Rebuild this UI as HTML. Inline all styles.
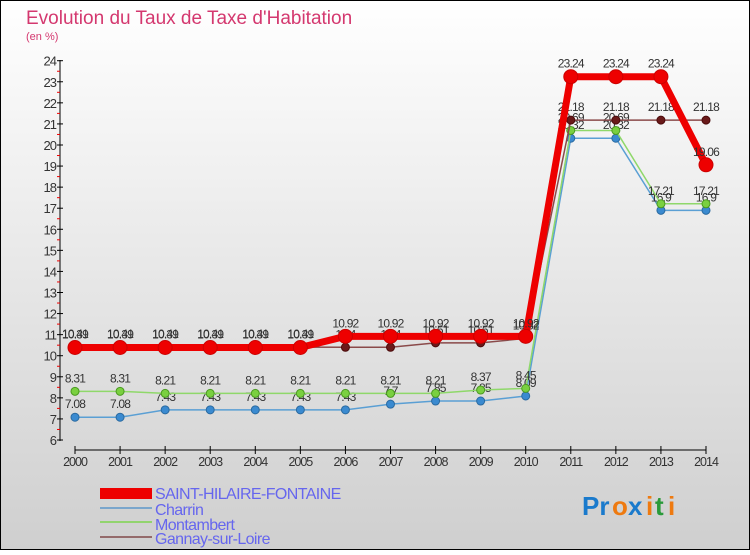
<!DOCTYPE html>
<html><head><meta charset="utf-8"><style>
body{margin:0;}
svg text{font-family:"Liberation Sans",sans-serif;}
</style></head><body>
<svg id="c" width="750" height="550" xmlns="http://www.w3.org/2000/svg">
<defs><linearGradient id="bg" x1="0" y1="0" x2="0" y2="1"><stop offset="0" stop-color="#ffffff"/><stop offset="1" stop-color="#cfcfcf"/></linearGradient></defs>
<rect x="0.5" y="0.5" width="749" height="549" fill="url(#bg)" stroke="#000"/>
<text x="26" y="24" font-size="19" fill="#d4386f">Evolution du Taux de Taxe d'Habitation</text>
<text x="26" y="40" font-size="11" fill="#d4386f">(en %)</text>
<g id="axes"></g><g id="series"></g>
<g>
<rect x="100" y="488" width="52" height="11" fill="#ee0000"/>
<text x="155" y="499" font-size="16" fill="#6666ee" letter-spacing="-0.6">SAINT-HILAIRE-FONTAINE</text>
<line x1="100" y1="508" x2="152" y2="508" stroke="#7aa6cc" stroke-width="2"/>
<text x="155" y="515" font-size="16" fill="#6666ee" letter-spacing="-0.6">Charrin</text>
<line x1="100" y1="522" x2="152" y2="522" stroke="#92d46e" stroke-width="2"/>
<text x="155" y="530" font-size="16" fill="#6666ee" letter-spacing="-0.6">Montambert</text>
<line x1="100" y1="537" x2="152" y2="537" stroke="#946a6a" stroke-width="2"/>
<text x="155" y="544" font-size="16" fill="#6666ee" letter-spacing="-0.6">Gannay-sur-Loire</text>
</g>
<g font-size="26" font-weight="bold">
<text x="582" y="515" fill="#1a7acc">Pr</text><text x="612" y="515" fill="#ee7a10">o</text><text x="628" y="515" fill="#1a7acc">x</text><text x="646" y="515" fill="#ee7a10">i</text><text x="655" y="515" fill="#2a9a3a">t</text><text x="668" y="515" fill="#ee7a10">i</text>
</g>
</svg>
<script>
const years=[2000,2001,2002,2003,2004,2005,2006,2007,2008,2009,2010,2011,2012,2013,2014];
const shf=[10.39,10.39,10.39,10.39,10.39,10.39,10.92,10.92,10.92,10.92,10.92,23.24,23.24,23.24,19.06];
const charrin=[7.08,7.08,7.43,7.43,7.43,7.43,7.43,7.7,7.85,7.85,8.09,20.32,20.32,16.9,16.9];
const montambert=[8.31,8.31,8.21,8.21,8.21,8.21,8.21,8.21,8.21,8.37,8.45,20.69,20.69,17.21,17.21];
const gannay=[10.41,10.41,10.41,10.41,10.41,10.41,10.4,10.4,10.61,10.61,10.82,21.18,21.18,21.18,21.18];
const yTicks=[6,7,8,9,10,11,12,13,14,15,16,17,18,19,20,21,22,23,24];
const NS="http://www.w3.org/2000/svg";
const X=i=>75+i*(706-75)/(years.length-1);
const Y=v=>440-(v-6)*(440-60.7)/18;
function mk(t,a,p){const e=document.createElementNS(NS,t);for(const k in a)e.setAttribute(k,a[k]);p.appendChild(e);return e;}
const ax=document.getElementById('axes');
let yl=mk('line',{x1:60,y1:60,x2:60,y2:441,stroke:'#000'},ax);


yTicks.forEach(v=>{
  mk('line',{x1:57,x2:63,y1:Y(v),y2:Y(v),stroke:'#000'},ax);
  if(v<24)mk('line',{x1:57,x2:60,y1:Y(v+0.5),y2:Y(v+0.5),stroke:'#e00'},ax);
  const t=mk('text',{x:56,y:Y(v)+5,'font-size':13,'text-anchor':'end',fill:'#333','letter-spacing':'-1'},ax);
  t.textContent=v;
  
  
});
let xl=mk('line',{x1:75,y1:450,x2:706,y2:450,stroke:'#000'},ax);


years.forEach((y,i)=>{
  mk('line',{x1:X(i),x2:X(i),y1:446,y2:454,stroke:'#000'},ax);
  const t=mk('text',{x:X(i),y:466,'font-size':12.5,'text-anchor':'middle',fill:'#333','letter-spacing':'-1'},ax);
  t.textContent=y;
  
  
});
const sg=document.getElementById('series');
function draw(vals,name,col,w,r,dot,stroke){
  const g=mk('g',{},sg);
  
  
  mk('polyline',{points:vals.map((v,i)=>X(i)+','+Y(v)).join(' '),fill:'none',stroke:col,'stroke-width':w,'stroke-linejoin':'round'},g);
  vals.forEach((v,i)=>{
    const c=mk('circle',{cx:X(i),cy:Y(v),r:r,fill:dot,stroke:stroke,'stroke-width':1},g);
    
    
    const t=mk('text',{x:X(i),y:Y(v)-9,'font-size':12,'text-anchor':'middle',fill:'#333','letter-spacing':'-0.8'},g);
    t.textContent=v;
    
    
  });
}
draw(charrin,'series-charrin','#5a9fd4',1.5,4,'#3a8ad0','#2a6aa0');
draw(montambert,'series-montambert','#8fd86a',1.5,4,'#7ad040','#4a9a20');
draw(gannay,'series-gannay','#8a4a4a',1.5,4,'#6a1a1a','#4a0a0a');
draw(shf,'series-saint-hilaire','#ee0000',7,7,'#ee0000','#cc0000');
</script>
</body></html>
